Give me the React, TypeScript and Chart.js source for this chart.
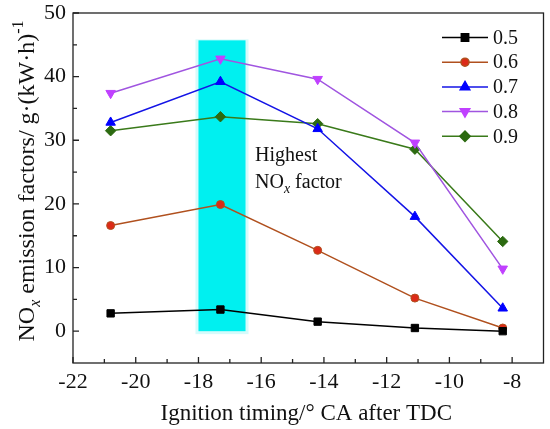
import { useEffect, useRef } from "react";
import { Chart, registerables } from "chart.js";
import { drawPoint } from "chart.js/helpers";

Chart.register(...registerables);

// ignition timing (° CA after TDC)
const ignitionTiming = [-20.8, -17.3, -14.2, -11.1, -8.3];

// NOx emission factor per excess air ratio
const seriesLabels = ["0.5", "0.6", "0.7", "0.8", "0.9"];
const nox05 = [2.8, 3.4, 1.5, 0.5, 0.0];
const nox06 = [16.6, 19.9, 12.7, 5.2, 0.5];
const nox07 = [32.8, 39.2, 31.8, 18.0, 3.6];
const nox08 = [37.4, 42.8, 39.6, 29.6, 9.8];
const nox09 = [31.5, 33.7, 32.6, 28.6, 14.1];

const xTicks = [-22, -20, -18, -16, -14, -12, -10, -8];
const yTicks = [0, 10, 20, 30, 40, 50];

// highlighted ignition window
const bandX = [-18, -16.5];
const bandY = [0, 45.7];

const SERIF = "'Liberation Serif', 'Times New Roman', serif";

const styles = [
  { line: "#000000", fill: "#000000", border: "#000000", pointStyle: "rect", radius: 5.2, rotation: 0 },
  { line: "#b0501e", fill: "#dc2a18", border: "#b0501e", pointStyle: "circle", radius: 4, rotation: 0 },
  { line: "#1414e6", fill: "#0000ff", border: "#0000ff", pointStyle: "triangle", radius: 5.5, rotation: 0 },
  { line: "#a055e0", fill: "#c040ff", border: "#c040ff", pointStyle: "triangle", radius: 5.5, rotation: 180 },
  { line: "#3a7a1a", fill: "#2c6a10", border: "#2c6a10", pointStyle: "rectRot", radius: 5.2, rotation: 0 },
];

type Seg = { t: string; size: number; italic?: boolean; dy?: number };

function drawSegments(ctx: CanvasRenderingContext2D, segs: Seg[], x: number, y: number, align: "left" | "center") {
  const font = (s: Seg) => `${s.italic ? "italic " : ""}${s.size}px ${SERIF}`;
  let total = 0;
  segs.forEach((s) => {
    ctx.font = font(s);
    total += ctx.measureText(s.t).width;
  });
  let cx = align === "center" ? x - total / 2 : x;
  ctx.textAlign = "left";
  ctx.textBaseline = "alphabetic";
  segs.forEach((s) => {
    ctx.font = font(s);
    ctx.fillText(s.t, cx, y + (s.dy || 0));
    cx += ctx.measureText(s.t).width;
  });
}

const decorPlugin = {
  id: "decor",
  beforeDatasetsDraw(chart: any) {
    const { ctx, scales } = chart;
    const x0 = scales.x.getPixelForValue(bandX[0]);
    const x1 = scales.x.getPixelForValue(bandX[1]);
    const y0 = scales.y.getPixelForValue(bandY[1]);
    const y1 = scales.y.getPixelForValue(bandY[0]);
    ctx.save();
    ctx.fillStyle = "#d6fbfb";
    ctx.fillRect(x0 - 3, y0 - 1, x1 - x0 + 6, y1 - y0 + 4);
    ctx.fillStyle = "#00f0f0";
    ctx.fillRect(x0, y0, x1 - x0, y1 - y0);
    ctx.restore();
  },
  afterDraw(chart: any) {
    const { ctx, chartArea: a, scales } = chart;
    ctx.save();
    // frame
    ctx.strokeStyle = "#222";
    ctx.lineWidth = 1.3;
    ctx.strokeRect(a.left, a.top, a.right - a.left, a.bottom - a.top);
    // inward ticks
    ctx.beginPath();
    xTicks.forEach((v, i) => {
      const px = scales.x.getPixelForValue(v);
      ctx.moveTo(px, a.bottom);
      ctx.lineTo(px, a.bottom - 6);
      if (i < xTicks.length - 1) {
        const mx = scales.x.getPixelForValue((v + xTicks[i + 1]) / 2);
        ctx.moveTo(mx, a.bottom);
        ctx.lineTo(mx, a.bottom - 4);
      }
    });
    yTicks.forEach((v, i) => {
      const py = scales.y.getPixelForValue(v);
      ctx.moveTo(a.left, py);
      ctx.lineTo(a.left + 6, py);
      if (i < yTicks.length - 1) {
        const my = scales.y.getPixelForValue((v + yTicks[i + 1]) / 2);
        ctx.moveTo(a.left, my);
        ctx.lineTo(a.left + 4, my);
      }
    });
    ctx.stroke();

    // legend
    chart.data.datasets.forEach((ds: any, i: number) => {
      const st = styles[i];
      const y = 37.5 + i * 24.7;
      ctx.strokeStyle = st.line;
      ctx.lineWidth = 1.5;
      ctx.beginPath();
      ctx.moveTo(442, y);
      ctx.lineTo(488, y);
      ctx.stroke();
      ctx.fillStyle = st.fill;
      ctx.strokeStyle = st.border;
      drawPoint(ctx, { pointStyle: st.pointStyle as any, radius: st.radius, rotation: st.rotation, borderWidth: 1 }, 465, y);
      ctx.fillStyle = "#111";
      ctx.font = `20px ${SERIF}`;
      ctx.textAlign = "left";
      ctx.textBaseline = "middle";
      ctx.fillText(ds.label, 493, y + 1);
    });

    ctx.fillStyle = "#111";
    // annotation
    drawSegments(ctx, [{ t: "Highest", size: 20 }], 255, 161, "left");
    drawSegments(
      ctx,
      [
        { t: "NO", size: 20 },
        { t: "x", size: 14, italic: true, dy: 5 },
        { t: " factor", size: 20 },
      ],
      255,
      188,
      "left"
    );

    // x title
    drawSegments(ctx, [{ t: "Ignition timing/° CA after TDC", size: 23 }], (a.left + a.right) / 2 - 2, 420, "center");

    // y title
    ctx.translate(34, 181);
    ctx.rotate(-Math.PI / 2);
    drawSegments(
      ctx,
      [
        { t: "NO", size: 24 },
        { t: "x", size: 16, italic: true, dy: 6 },
        { t: " emission factors/ g·(kW·h)", size: 24 },
        { t: "-1", size: 16, dy: -11 },
      ],
      0,
      0,
      "center"
    );
    ctx.restore();
  },
};

export default function App() {
  const canvasRef = useRef<HTMLCanvasElement>(null);
  const chartRef = useRef<Chart | null>(null);

  useEffect(() => {
    document.body.style.margin = "0";
    if (!canvasRef.current) return;
    if (chartRef.current) chartRef.current.destroy();

    const seriesValues = [nox05, nox06, nox07, nox08, nox09];
    const datasets = seriesValues.map((vals, i) => ({
      label: seriesLabels[i],
      data: vals.map((v, j) => ({ x: ignitionTiming[j], y: v })),
      showLine: true,
      borderColor: styles[i].line,
      borderWidth: 1.5,
      backgroundColor: styles[i].fill,
      pointBackgroundColor: styles[i].fill,
      pointBorderColor: styles[i].border,
      pointBorderWidth: 1,
      pointStyle: styles[i].pointStyle as any,
      pointRadius: styles[i].radius,
      pointRotation: styles[i].rotation,
      tension: 0,
    }));

    chartRef.current = new Chart(canvasRef.current, {
      type: "scatter",
      data: { datasets },
      plugins: [decorPlugin],
      options: {
        responsive: false,
        animation: false,
        layout: { padding: { top: 13, right: 3, left: 0, bottom: 0 } },
        plugins: { legend: { display: false }, tooltip: { enabled: false } },
        scales: {
          x: {
            type: "linear",
            min: -22,
            max: -7,
            grid: { display: false, drawTicks: false },
            border: { display: false },
            afterBuildTicks: (s: any) => {
              s.ticks = xTicks.map((v) => ({ value: v }));
            },
            afterFit: (s: any) => {
              s.height = 66;
              s.paddingLeft = 0;
              s.paddingRight = 0;
            },
            ticks: {
              padding: 6,
              color: "#111",
              font: { family: SERIF, size: 22 },
              maxRotation: 0,
              autoSkip: false,
            },
          },
          y: {
            type: "linear",
            min: -5,
            max: 50,
            grid: { display: false, drawTicks: false },
            border: { display: false },
            afterBuildTicks: (s: any) => {
              s.ticks = yTicks.map((v) => ({ value: v }));
            },
            afterFit: (s: any) => {
              s.width = 73;
              s.paddingTop = 0;
              s.paddingBottom = 0;
            },
            ticks: {
              padding: 7,
              color: "#111",
              font: { family: SERIF, size: 22 },
              autoSkip: false,
            },
          },
        },
      },
    });

    return () => {
      if (chartRef.current) {
        chartRef.current.destroy();
        chartRef.current = null;
      }
    };
  }, []);

  return (
    <div style={{ width: 550, height: 429, background: "#fff" }}>
      <canvas ref={canvasRef} width={550} height={429} />
    </div>
  );
}
